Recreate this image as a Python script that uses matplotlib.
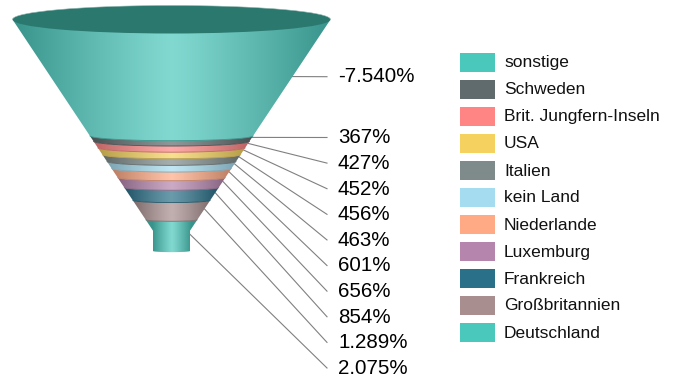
import matplotlib
matplotlib.use('Agg')
import matplotlib.pyplot as plt
import matplotlib.patches as mpatches
from matplotlib.path import Path
import numpy as np

plt.rcParams['font.family'] = ['Liberation Sans', 'DejaVu Sans']

# top to bottom, same order as the legend
countries = ['sonstige', 'Schweden', 'Brit. Jungfern-Inseln', 'USA', 'Italien', 'kein Land',
             'Niederlande', 'Luxemburg', 'Frankreich', 'Großbritannien', 'Deutschland']
values = [7540, 367, 427, 452, 456, 463, 601, 656, 854, 1289, 2075]
value_labels = ['-7.540%', '367%', '427%', '452%', '456%', '463%', '601%', '656%', '854%', '1.289%', '2.075%']
colors = ['#4bc8bc', '#5f6b6d', '#ff8585', '#f5d25f', '#7f8a8a', '#a6dcef',
          '#ffaa85', '#b585ad', '#2a7088', '#a88e8e', '#4bc8bc']

# funnel geometry in pixels
cx = 171.5
rim_y = 19.5
rim_half = 159
neck_half = 18.5
bottom_y = 251
px_per_unit = 0.0151
neck_y = 230.7
arc_ratio = 0.062


def half_width(y):
    return np.interp(y, [rim_y, neck_y, bottom_y], [rim_half, neck_half, neck_half])


def arc(y, reverse=False):
    # front half of the ellipse at height y, left to right
    h = half_width(y)
    ry = arc_ratio * h
    t = np.linspace(np.pi, 0, 60)
    xs = cx + h * np.cos(t)
    ys = y + ry * np.sin(t)
    if reverse:
        return xs[::-1], ys[::-1]
    return xs, ys


def shade(color, h, span, n=256):
    # horizontal light-to-dark gradient, dark from span outwards
    rgb = np.array(matplotlib.colors.to_rgb(color))
    dark = rgb * 0.74
    light = rgb + (1 - rgb) * 0.3
    t = np.clip(np.abs(np.linspace(-h, h, n)) / span, 0, 1)
    t = (t ** 1.15)[:, None]
    return (light * (1 - t) + dark * t)[None, :, :]


fig = plt.figure(figsize=(6.76, 3.81), dpi=100)
ax = fig.add_axes([0, 0, 1, 1])

# band limits come from the values, measured up from the bottom
cum = np.cumsum(values[::-1])[::-1]
tops = bottom_y - cum * px_per_unit
tops[0] = rim_y
bottoms = np.append(tops[1:], bottom_y)

for i, c in enumerate(colors):
    x1, y1 = arc(tops[i])
    x2, y2 = arc(bottoms[i], reverse=True)
    xs = np.concatenate([x1, x2])
    ys = np.concatenate([y1, y2])
    h = half_width(tops[i])
    span = h
    if tops[i] < neck_y < bottoms[i]:
        # keep the corner where cone meets neck
        xs = np.concatenate([x1, [cx + neck_half], x2, [cx - neck_half]])
        ys = np.concatenate([y1, [neck_y], y2, [neck_y]])
        span = neck_half + 1
    path = Path(np.column_stack([xs, ys]), closed=False)
    patch = mpatches.PathPatch(path, facecolor='none', edgecolor='none')
    ax.add_patch(patch)
    im = ax.imshow(shade(c, h, span), extent=(cx - h, cx + h, bottoms[i] + 20, tops[i] - 1),
                   aspect='auto', interpolation='bilinear', zorder=2)
    im.set_clip_path(patch)
    # darker seam along the lower edge of the band
    if i < len(colors) - 1:
        sx, sy = arc(bottoms[i])
        dark = np.array(matplotlib.colors.to_rgb(c)) * 0.75
        ax.plot(sx, sy, color=dark, lw=0.6, zorder=3, solid_capstyle='butt')

# open top of the funnel
rim = mpatches.Ellipse((cx, rim_y), 2 * rim_half, 28, facecolor='#2b786e', edgecolor='none', zorder=4)
ax.add_patch(rim)
t = np.linspace(np.pi, 2 * np.pi, 100)
ax.plot(cx + rim_half * np.cos(t), rim_y + 14 * np.sin(t), color='#8fb5ae', lw=0.4, zorder=4)

# leader lines and value labels
label_ys = np.concatenate([[76.7], np.linspace(137.5, 368, 10)])
for i, lab in enumerate(value_labels):
    mid = (tops[i] + bottoms[i]) / 2 - 1
    ax.plot([cx + half_width(mid), 327], [mid, label_ys[i]], color='#808080', lw=0.8, zorder=1)
    ax.text(338, label_ys[i] + 0.3, lab, fontsize=14.8, color='black', va='center', ha='left')

# legend
for i, (name, c) in enumerate(zip(countries, colors)):
    row = 62.5 + 27 * i
    ax.add_patch(mpatches.Rectangle((460, row - 9.5), 35, 19, facecolor=c, edgecolor='none'))
    ax.text(504, row + 0.5, name, fontsize=12.55, color='#111111', va='center', ha='left')

ax.set_xlim(0, 676)
ax.set_ylim(381, 0)
ax.axis('off')
fig.savefig('out.png', dpi=100, facecolor='white')
